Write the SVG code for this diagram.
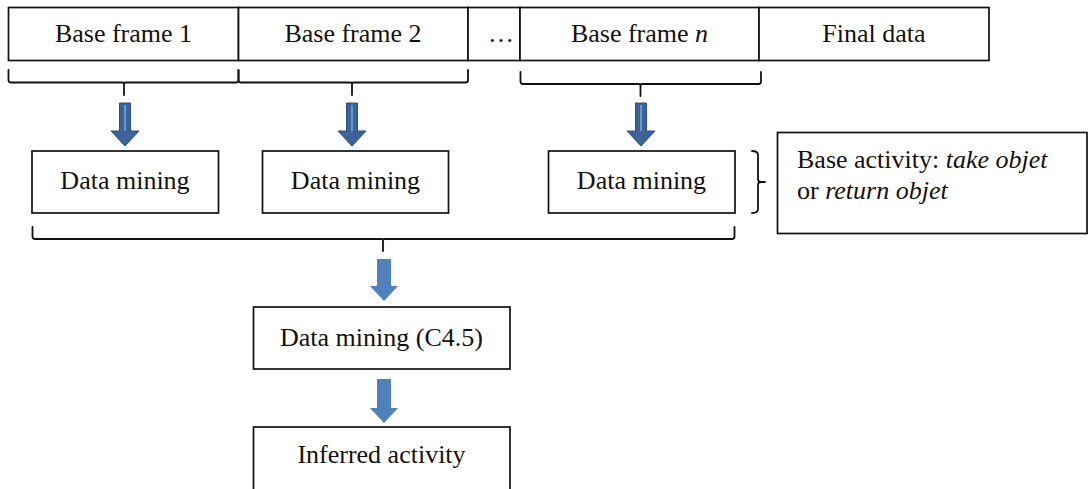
<svg xmlns="http://www.w3.org/2000/svg" width="1091" height="489" viewBox="0 0 1091 489">
  <defs>
    <style>
      .box { fill: #ffffff; stroke: #111111; stroke-width: 1.7; }
      .brace { fill: none; stroke: #111111; stroke-width: 1.8; stroke-linejoin: round; stroke-linecap: round; }
      .lbl { font-family: "Liberation Serif", "Times New Roman", serif; font-size: 26px; fill: #111111; }
      .mid { text-anchor: middle; }
      .it { font-style: italic; }
      .arrow-dark { fill: #3D6499; stroke: #2C4F7C; stroke-width: 1; }
      .arrow-shine { stroke: #6A97CF; stroke-width: 2; }
      .arrow-light { fill: #4F81BD; }
    </style>
  </defs>
  <rect width="1091" height="489" fill="#ffffff"/>

  <!-- top strip of frames -->
  <g id="frame1">
    <rect class="box" x="8.5" y="7.5" width="230" height="53"/>
    <text class="lbl mid" x="123.5" y="42">Base frame 1</text>
  </g>
  <g id="frame2">
    <rect class="box" x="238.5" y="7.5" width="229.5" height="53"/>
    <text class="lbl mid" x="353" y="42">Base frame 2</text>
  </g>
  <g id="frame-gap">
    <rect class="box" x="468" y="7.5" width="52" height="53"/>
    <text class="lbl" x="488" y="42">…</text>
  </g>
  <g id="frameN">
    <rect class="box" x="520" y="7.5" width="239" height="53"/>
    <text class="lbl mid" x="639.5" y="42">Base frame <tspan class="it">n</tspan></text>
  </g>
  <g id="final-data">
    <rect class="box" x="759" y="7.5" width="230" height="53"/>
    <text class="lbl mid" x="874" y="42">Final data</text>
  </g>

  <!-- per-frame mining -->
  <g id="mining1">
    <rect class="box" x="32" y="151" width="186.5" height="62"/>
    <text class="lbl mid" x="125" y="189">Data mining</text>
  </g>
  <g id="mining2">
    <rect class="box" x="262.5" y="151" width="186" height="62"/>
    <text class="lbl mid" x="355.5" y="189">Data mining</text>
  </g>
  <g id="miningN">
    <rect class="box" x="548.5" y="151" width="186.5" height="62"/>
    <text class="lbl mid" x="641.5" y="189">Data mining</text>
  </g>

  <g id="base-activity">
    <rect class="box" x="777.5" y="132.5" width="309.5" height="101"/>
    <text class="lbl" x="797" y="168">Base activity: <tspan class="it">take objet</tspan></text>
    <text class="lbl" x="797" y="199">or <tspan class="it">return objet</tspan></text>
  </g>

  <g id="mining-c45">
    <rect class="box" x="253.5" y="307" width="256.5" height="62"/>
    <text class="lbl mid" x="381.5" y="346">Data mining (C4.5)</text>
  </g>
  <g id="inferred">
    <rect class="box" x="253.5" y="427" width="256.5" height="70"/>
    <text class="lbl mid" x="381.5" y="463">Inferred activity</text>
  </g>

  <!-- connectors: square braces with a centre tick, and block arrows -->
  <g id="connectors">
    <path class="brace" d="M8.5,70 L8.5,80 Q8.5,82.5 11,82.5 L122.5,82.5 Q124,82.5 124,84 L124,95 M124,84 Q124,82.5 125.5,82.5 L236,82.5 Q238.5,82.5 238.5,80 L238.5,70"/>
    <path class="brace" d="M238.5,70 L238.5,80 Q238.5,82.5 241,82.5 L350.5,82.5 Q352,82.5 352,84 L352,95 M352,84 Q352,82.5 353.5,82.5 L465.5,82.5 Q468,82.5 468,80 L468,70"/>
    <path class="brace" d="M520.5,72 L520.5,81.5 Q520.5,84 523,84 L639,84 Q640.5,84 640.5,85.5 L640.5,96 M640.5,85.5 Q640.5,84 642,84 L758.5,84 Q761,84 761,81.5 L761,72"/>
    <path class="brace" d="M752,151 Q758,151 758,155 L758,179 Q758,182 761,182 L765,182 M761,182 Q758,182 758,185 L758,209 Q758,213 752,213"/>
    <path class="brace" d="M32.5,227 L32.5,236.5 Q32.5,239 35,239 L381.5,239 Q383,239 383,240.5 L383,251 M383,240.5 Q383,239 384.5,239 L732,239 Q734.5,239 734.5,236.5 L734.5,227"/>

    <path class="arrow-dark" d="M119.5,103 L130.5,103 L130.5,131 L139,131 L125,146 L111,131 L119.5,131 Z"/>
    <line class="arrow-shine" x1="125" y1="105" x2="125" y2="131"/>
    <path class="arrow-dark" d="M346.5,103 L357.5,103 L357.5,131 L366,131 L352,146 L338,131 L346.5,131 Z"/>
    <line class="arrow-shine" x1="352" y1="105" x2="352" y2="131"/>
    <path class="arrow-dark" d="M635.5,103 L646.5,103 L646.5,131 L655,131 L641,146 L627,131 L635.5,131 Z"/>
    <line class="arrow-shine" x1="641" y1="105" x2="641" y2="131"/>

    <path class="arrow-light" d="M377,259 L391,259 L391,286 L398,286 L384,301 L370,286 L377,286 Z"/>
    <path class="arrow-light" d="M377,379 L391,379 L391,408 L398,408 L384,423 L370,408 L377,408 Z"/>
  </g>
</svg>
